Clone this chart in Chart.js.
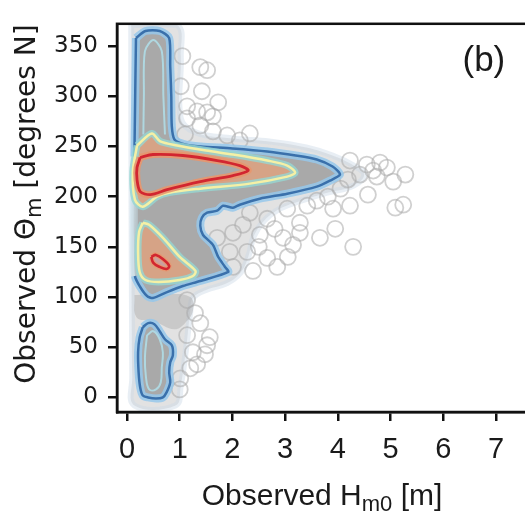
<!DOCTYPE html>
<html>
<head>
<meta charset="utf-8">
<script src="https://cdn.jsdelivr.net/npm/chart.js@4.4.0/dist/chart.umd.min.js"></script>
<style>
html, body { margin: 0; padding: 0; background: #fff; overflow: hidden; }
#wrap { width: 560px; height: 515px; }
</style>
</head>
<body>
<div id="wrap"><canvas id="c" width="560" height="515"></canvas></div>
<script>
// tick positions
const xTicks = [0, 1, 2, 3, 4, 5, 6, 7];
const yTicks = [0, 50, 100, 150, 200, 250, 300, 350];

// scattered observations outside the dense cloud [Hm0, theta]
const scatterPts = [
  [1.39, 329], [1.52, 326], [1.42, 305], [1.73, 294], [1.14, 290], [1.33, 285], [1.52, 284],
  [1.63, 280], [1.14, 278], [1.39, 271], [1.63, 265], [1.90, 261], [2.33, 263], [2.14, 256],
  [1.05, 340], [1.02, 310], [1.1, 262],
  [4.23, 236], [4.55, 232], [4.80, 234], [4.93, 229], [4.67, 226], [4.42, 222], [4.74, 220],
  [5.05, 215], [5.28, 222], [4.19, 217], [4.57, 202], [4.23, 191], [5.09, 189], [5.24, 192],
  [3.81, 200], [3.91, 188], [3.95, 168], [3.66, 159], [4.29, 150], [4.05, 208], [3.6, 196],
  [2.33, 184], [2.66, 178], [3.04, 188], [3.28, 174], [3.42, 191], [2.01, 164], [2.52, 162],
  [2.96, 159], [3.15, 152], [2.28, 145], [2.66, 139], [2.39, 126], [2.85, 130], [2.01, 130],
  [3.28, 164], [1.71, 159], [1.95, 145], [2.2, 172], [2.8, 168], [3.05, 140], [2.5, 150],
  [1.39, 74], [1.52, 52], [1.48, 43], [1.20, 29], [1.14, 62], [1.01, 19], [1.57, 60],
  [1.33, 33], [1.14, 97], [1.29, 84], [1.0, 8], [1.25, 45]
];

// density contours [Hm0, theta]
const fuzzEnvelope = [
  [0.08, 371], [0.95, 371], [1.02, 340], [1.02, 278], [1.3, 264], [2.0, 258], [2.7, 255],
  [3.4, 249], [3.9, 241], [4.3, 231], [4.5, 222], [4.3, 211], [3.8, 204], [3.3, 196],
  [2.9, 188], [2.6, 176], [2.4, 160], [2.3, 140], [2.15, 124], [1.9, 114], [1.5, 107],
  [1.25, 99], [1.2, 85], [1.15, 62], [1.1, 40], [1.02, 12], [0.92, -8], [0.14, -8],
  [0.1, 20], [0.08, 371]
];

const fuzzGap = [
  [0.14, 102], [0.7, 103], [1.2, 100], [1.25, 86], [1.1, 74], [0.9, 68], [0.5, 76],
  [0.18, 80], [0.14, 102]
];

const blueMain = [
  [0.17, 358], [0.35, 365], [0.62, 365], [0.80, 358], [0.82, 330], [0.84, 300], [0.85, 270],
  [0.90, 257], [1.10, 252], [1.40, 250], [2.0, 248], [2.66, 245], [3.2, 241], [3.6, 237],
  [3.9, 230], [4.04, 222], [3.85, 216], [3.6, 210], [3.04, 203], [2.52, 198], [2.14, 192],
  [2.01, 189], [1.82, 191], [1.71, 186], [1.52, 184], [1.42, 179], [1.39, 171], [1.44, 162],
  [1.63, 152], [1.73, 140], [1.86, 130], [1.92, 125], [1.39, 116], [1.06, 111], [0.76, 105],
  [0.49, 99], [0.38, 101], [0.25, 110], [0.15, 121], [0.13, 160], [0.13, 200], [0.14, 240],
  [0.15, 280], [0.16, 320], [0.17, 358]
];

const cyanStem = [
  [0.31, 262], [0.32, 300], [0.34, 345], [0.50, 356], [0.66, 345], [0.69, 300], [0.72, 262]
];

const blueLower = [
  [0.30, 70], [0.40, 74], [0.52, 73], [0.62, 66], [0.72, 58], [0.85, 52], [0.87, 42],
  [0.82, 35], [0.80, 25], [0.82, 15], [0.75, 5], [0.68, 0], [0.55, -1], [0.40, 0],
  [0.30, 2], [0.25, 10], [0.22, 25], [0.21, 45], [0.24, 60], [0.30, 70]
];

const cyanLower = [
  [0.38, 62], [0.50, 66], [0.62, 58], [0.68, 45], [0.66, 30], [0.64, 15], [0.55, 8],
  [0.42, 8], [0.36, 20], [0.34, 40], [0.38, 62]
];

const yellowUpper = [
  [0.19, 251], [0.47, 263], [0.63, 255], [0.95, 251], [1.5, 246], [2.01, 242], [2.66, 236],
  [3.04, 231], [3.19, 224], [3.04, 220], [2.33, 213], [1.39, 208], [0.80, 204], [0.57, 200],
  [0.30, 190], [0.15, 197], [0.11, 225], [0.19, 251]
];

const redUpper = [
  [0.25, 239], [0.49, 242], [1.06, 241], [1.71, 236], [2.14, 231], [2.30, 226], [2.01, 221],
  [1.39, 215], [0.76, 207], [0.44, 202], [0.25, 205], [0.19, 217], [0.19, 229], [0.25, 239]
];

const yellowLower = [
  [0.30, 174], [0.42, 172], [0.70, 158], [1.0, 140], [1.3, 126], [1.25, 121], [1.0, 117],
  [0.6, 115], [0.35, 117], [0.24, 125], [0.21, 145], [0.23, 165], [0.30, 174]
];

const redLower = [
  [0.46, 140], [0.55, 142], [0.70, 137], [0.80, 131], [0.75, 128], [0.62, 130], [0.50, 134],
  [0.46, 140]
];

const toXY = arr => arr.map(p => ({ x: p[0], y: p[1] }));

function contour(pts, color, width, fillColor, order, tension) {
  return {
    type: 'line',
    data: toXY(pts),
    order: order,
    borderColor: color,
    borderWidth: width,
    backgroundColor: fillColor || 'transparent',
    fill: fillColor ? 'shape' : false,
    pointRadius: 0,
    tension: tension === undefined ? 0.3 : tension,
    borderJoinStyle: 'round'
  };
}

// the dark line fades out along the left edge of the main lobe
const hideLeftEdge = ctx => {
  const a = ctx.p0.parsed, b = ctx.p1.parsed;
  if (a.x < 0.2 && b.x < 0.2 && a.y < 262 && b.y < 262 && a.y > 112 && b.y > 112) return 'rgba(0,0,0,0)';
  return undefined;
};

const haloBlue = 'rgba(150,200,235,0.85)';
const grayFill = '#a9a9a9';
const lightCyan = 'rgba(175,220,230,0.9)';

const mainLine = contour(blueMain, '#3a70ab', 2.5, null, 27, 0.25);
mainLine.segment = { borderColor: hideLeftEdge };
const mainHalo = contour(blueMain, haloBlue, 8, grayFill, 28, 0.25);
mainHalo.segment = { borderColor: ctx => hideLeftEdge(ctx) ? 'rgba(200,225,235,0.5)' : undefined };

const datasets = [
  contour(fuzzEnvelope, 'rgba(205,218,230,0.45)', 6, 'rgba(190,190,190,0.45)', 31, 0.4),
  contour(fuzzGap, 'rgba(190,190,190,0)', 1, 'rgba(170,170,170,0.45)', 30, 0.4),
  {
    type: 'scatter',
    data: toXY(scatterPts),
    order: 29,
    pointRadius: 8,
    pointHoverRadius: 8,
    borderWidth: 1.8,
    borderColor: 'rgba(170,170,170,0.55)',
    backgroundColor: 'rgba(255,255,255,0)'
  },
  mainHalo,
  mainLine,
  contour(cyanStem, lightCyan, 2, null, 26, 0.3),
  contour(blueLower, haloBlue, 8, grayFill, 28, 0.3),
  contour(blueLower, '#3a70ab', 2.5, null, 27, 0.3),
  contour(cyanLower, lightCyan, 2, null, 26, 0.4),
  contour(yellowUpper, 'rgba(150,215,210,0.8)', 7, 'rgba(222,162,128,0.85)', 20, 0.3),
  contour(yellowUpper, '#f5f0a5', 2.5, null, 19, 0.3),
  contour(redUpper, 'rgba(232,150,110,0.9)', 7, grayFill, 18, 0.3),
  contour(redUpper, '#d22630', 2.8, null, 17, 0.3),
  contour(yellowLower, 'rgba(150,215,210,0.8)', 7, 'rgba(222,162,128,0.85)', 20, 0.3),
  contour(yellowLower, '#f5f0a5', 2.5, null, 19, 0.3),
  contour(redLower, 'rgba(232,150,110,0.9)', 5, '#c9a0a0', 18, 0.4),
  contour(redLower, '#d22630', 2.6, null, 17, 0.4)
];

// draw text with a subscript part, centred on (0,0) of the current transform
function drawParts(ctx, parts, font, subFont, subDy) {
  let total = 0;
  parts.forEach(p => { ctx.font = p.sub ? subFont : font; p.w = ctx.measureText(p.t).width; total += p.w; });
  let x = -total / 2;
  ctx.textAlign = 'left';
  ctx.textBaseline = 'middle';
  parts.forEach(p => {
    ctx.font = p.sub ? subFont : font;
    ctx.fillText(p.t, x, p.sub ? subDy : 0);
    x += p.w;
  });
}

const framePlugin = {
  id: 'frame',
  afterDraw(chart) {
    const ctx = chart.ctx;
    const a = chart.chartArea;
    ctx.save();
    ctx.strokeStyle = '#111';
    ctx.lineWidth = 2.5;
    ctx.strokeRect(a.left, a.top, a.right - a.left, a.bottom - a.top);

    ctx.fillStyle = '#1a1a1a';
    // x title
    ctx.save();
    ctx.translate(322, 497);
    drawParts(ctx, [{ t: 'Observed H' }, { t: 'm0', sub: true }, { t: ' [m]' }],
      '30px "Liberation Sans", Arial, sans-serif', '22px "Liberation Sans", Arial, sans-serif', 8);
    ctx.restore();
    // y title
    ctx.save();
    ctx.translate(28, 204);
    ctx.rotate(-Math.PI / 2);
    drawParts(ctx, [{ t: 'Observed Θ' }, { t: 'm', sub: true }, { t: ' [degrees N]' }],
      '28px "DejaVu Sans", sans-serif', '21px "DejaVu Sans", sans-serif', 8);
    ctx.restore();
    // panel letter
    const xs = chart.scales.x, ys = chart.scales.y;
    ctx.font = '35px "Liberation Sans", Arial, sans-serif';
    ctx.textAlign = 'center';
    ctx.textBaseline = 'middle';
    ctx.fillText('(b)', xs.getPixelForValue(6.77), ys.getPixelForValue(335));
    ctx.restore();
  }
};

const axisGrid = { drawOnChartArea: false, drawTicks: true, tickLength: 9, color: '#111', lineWidth: 2.5 };

new Chart(document.getElementById('c'), {
  type: 'scatter',
  data: { datasets: datasets },
  options: {
    responsive: false,
    animation: false,
    devicePixelRatio: 1,
    layout: { padding: { top: 12, right: 20, left: 0, bottom: 0 } },
    plugins: { legend: { display: false }, tooltip: { enabled: false } },
    scales: {
      x: {
        type: 'linear',
        min: -0.19,
        max: 7.835,
        afterBuildTicks: s => { s.ticks = xTicks.map(v => ({ value: v })); },
        afterFit: s => { s.height = 103; },
        grid: axisGrid,
        border: { display: true, color: '#111', width: 2.5 },
        ticks: { font: { family: '"Liberation Sans", Arial', size: 29 }, color: '#1a1a1a', padding: 12, maxRotation: 0, autoSkip: false }
      },
      y: {
        type: 'linear',
        min: -14.5,
        max: 372.2,
        afterBuildTicks: s => { s.ticks = yTicks.map(v => ({ value: v })); },
        afterFit: s => { s.width = 117; },
        grid: axisGrid,
        border: { display: true, color: '#111', width: 2.5 },
        ticks: { font: { family: '"DejaVu Sans"', size: 23 }, color: '#1a1a1a', padding: 10, autoSkip: false }
      }
    }
  },
  plugins: [framePlugin]
});
</script>
</body>
</html>
